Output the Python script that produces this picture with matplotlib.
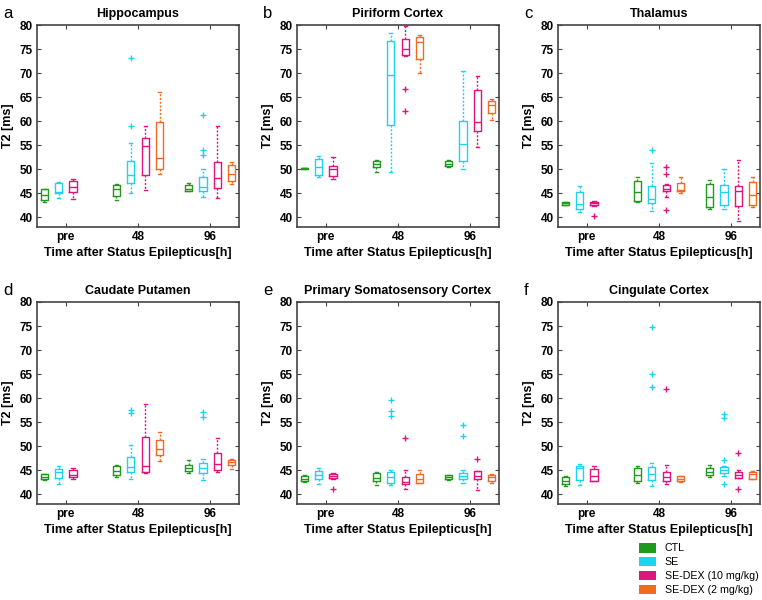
import matplotlib
matplotlib.use("Agg")
import matplotlib.pyplot as plt
from matplotlib.patches import Patch

plt.rcParams['font.family'] = ['Liberation Sans', 'DejaVu Sans']

time_labels = ["pre", "48", "96"]
series_names = ["CTL", "SE", "SE-DEX (10 mg/kg)", "SE-DEX (2 mg/kg)"]
series_colors = ["#1f9a1f", "#1dd3f2", "#e0147c", "#f56a1e"]

# rows: (time index, series index, whislo, q1, median, q3, whishi, [outliers])
hippocampus = [
    (0, 0, 43.3, 43.6, 44.7, 45.8, 45.9, []),
    (0, 1, 44.0, 45.0, 45.3, 47.2, 47.3, []),
    (0, 2, 43.8, 45.3, 46.3, 47.6, 48.0, []),
    (1, 0, 43.6, 44.5, 46.0, 46.8, 47.0, []),
    (1, 1, 45.0, 47.2, 48.8, 51.7, 55.5, [59.0, 73.1]),
    (1, 2, 45.7, 48.8, 54.8, 56.5, 59.0, []),
    (1, 3, 49.1, 50.1, 52.4, 59.9, 66.1, []),
    (2, 0, 45.5, 45.5, 45.8, 46.7, 47.2, []),
    (2, 1, 44.2, 45.5, 46.4, 48.5, 50.0, [53.0, 54.1, 61.3]),
    (2, 2, 44.0, 46.1, 48.2, 51.6, 59.0, []),
    (2, 3, 47.0, 47.5, 49.0, 50.8, 51.6, []),
]
piriform_cortex = [
    (0, 0, 50.1, 50.15, 50.2, 50.3, 50.35, []),
    (0, 1, 48.3, 48.8, 50.5, 52.2, 52.8, []),
    (0, 2, 48.0, 48.6, 50.0, 50.6, 52.6, []),
    (1, 0, 49.4, 50.5, 51.1, 51.8, 52.0, []),
    (1, 1, 49.5, 59.3, 69.6, 76.6, 78.4, []),
    (1, 2, 73.5, 73.8, 75.1, 77.0, 79.8, [66.7, 62.1]),
    (1, 3, 70.0, 72.9, 76.4, 77.5, 78.0, []),
    (2, 0, 50.5, 50.6, 51.1, 51.7, 51.9, []),
    (2, 1, 50.1, 51.7, 55.3, 60.1, 70.5, []),
    (2, 2, 54.7, 58.0, 59.9, 66.4, 69.3, []),
    (2, 3, 60.2, 61.6, 63.4, 64.2, 64.7, []),
]
thalamus = [
    (0, 0, 42.5, 42.6, 42.9, 43.2, 43.3, []),
    (0, 1, 41.1, 41.8, 42.7, 45.3, 46.5, []),
    (0, 2, 42.3, 42.5, 42.9, 43.3, 43.5, [40.3]),
    (1, 0, 43.1, 43.4, 45.3, 47.6, 48.4, []),
    (1, 1, 41.4, 43.0, 43.8, 46.6, 51.3, [54.1]),
    (1, 2, 44.2, 45.5, 46.0, 46.8, 47.0, [49.1, 50.5, 41.6]),
    (1, 3, 45.0, 45.4, 45.6, 47.2, 48.4, []),
    (2, 0, 41.8, 42.1, 44.2, 47.0, 47.8, []),
    (2, 1, 41.8, 42.5, 45.2, 46.8, 50.0, []),
    (2, 2, 39.2, 42.3, 45.4, 46.6, 51.9, []),
    (2, 3, 42.2, 42.5, 44.6, 47.4, 48.5, []),
]
caudate_putamen = [
    (0, 0, 42.9, 43.1, 43.6, 44.2, 44.3, []),
    (0, 1, 42.2, 43.4, 44.6, 45.3, 45.9, []),
    (0, 2, 43.3, 43.6, 44.0, 45.0, 45.5, []),
    (1, 0, 43.7, 44.0, 44.8, 45.9, 46.1, []),
    (1, 1, 43.1, 44.7, 45.7, 47.8, 50.2, [57.0, 57.6]),
    (1, 2, 44.4, 44.7, 45.9, 52.0, 58.8, []),
    (1, 3, 47.0, 48.1, 49.4, 51.3, 52.9, []),
    (2, 0, 44.5, 44.9, 45.4, 46.2, 47.1, []),
    (2, 1, 43.0, 44.5, 45.4, 46.5, 47.3, [56.0, 57.1]),
    (2, 2, 44.6, 45.0, 46.4, 48.6, 51.7, []),
    (2, 3, 45.3, 46.2, 46.8, 47.2, 47.3, []),
]
somatosensory_cortex = [
    (0, 0, 42.6, 42.8, 43.2, 43.8, 44.0, []),
    (0, 1, 42.2, 43.2, 44.1, 44.8, 45.4, []),
    (0, 2, 43.3, 43.4, 43.8, 44.2, 44.4, [41.2]),
    (1, 0, 42.0, 42.8, 43.4, 44.4, 44.6, []),
    (1, 1, 42.0, 42.3, 43.6, 44.6, 45.0, [59.7, 57.4, 56.2]),
    (1, 2, 41.1, 42.2, 42.6, 43.6, 45.0, [51.7]),
    (1, 3, 42.3, 42.4, 43.1, 44.2, 45.0, []),
    (2, 0, 42.9, 43.2, 43.6, 44.0, 44.1, []),
    (2, 1, 42.4, 43.3, 43.8, 44.5, 45.0, [54.4, 52.1]),
    (2, 2, 41.0, 43.2, 43.9, 44.8, 44.9, [47.3]),
    (2, 3, 42.4, 42.8, 43.6, 44.1, 44.2, []),
]
cingulate_cortex = [
    (0, 0, 41.8, 42.1, 42.7, 43.6, 43.8, []),
    (0, 1, 42.0, 42.9, 45.4, 46.0, 46.3, []),
    (0, 2, 42.7, 42.7, 43.8, 45.2, 45.8, []),
    (1, 0, 42.4, 42.7, 44.1, 45.5, 45.8, []),
    (1, 1, 41.7, 43.0, 44.2, 45.7, 46.5, [74.9, 65.1, 62.3]),
    (1, 2, 42.2, 42.8, 43.7, 44.6, 46.2, [61.9]),
    (1, 3, 42.6, 42.7, 43.2, 43.8, 43.9, []),
    (2, 0, 43.7, 44.0, 44.6, 45.4, 46.1, []),
    (2, 1, 43.8, 44.5, 45.0, 45.6, 45.8, [47.2, 56.7, 55.9, 42.1]),
    (2, 2, 43.5, 43.5, 44.1, 44.7, 45.1, [48.5, 41.2]),
    (2, 3, 43.2, 43.3, 44.2, 44.7, 44.9, []),
]

panels = [
    ("a", "Hippocampus", hippocampus),
    ("b", "Piriform Cortex", piriform_cortex),
    ("c", "Thalamus", thalamus),
    ("d", "Caudate Putamen", caudate_putamen),
    ("e", "Primary Somatosensory Cortex", somatosensory_cortex),
    ("f", "Cingulate Cortex", cingulate_cortex),
]

W, H = 762, 600
fig = plt.figure(figsize=(W / 100, H / 100), dpi=100)

lefts = [37, 297, 558]
tops = [25, 302]
aw, ah = 202, 202

offsets = [-0.3, -0.1, 0.1, 0.3]
spine_col = "#444444"

for i, (letter, title, table) in enumerate(panels):
    r, c = divmod(i, 3)
    l = lefts[c]
    t = tops[r]
    ax = fig.add_axes([l / W, 1 - (t + ah) / H, aw / W, ah / H])
    for (g, s, lo, q1, med, q3, hi, fl) in table:
        col = series_colors[s]
        st = dict(whislo=lo, q1=q1, med=med, q3=q3, whishi=hi, fliers=fl)
        ax.bxp([st], positions=[g + 1 + offsets[s]], widths=0.1,
               showfliers=True, patch_artist=False,
               boxprops=dict(color=col, linewidth=1.0),
               medianprops=dict(color=col, linewidth=1.0),
               whiskerprops=dict(color=col, linewidth=1.0, linestyle=(0, (1.5, 1.2))),
               capprops=dict(color=col, linewidth=1.0),
               capwidths=0.045,
               flierprops=dict(marker='+', markeredgecolor=col, markersize=5,
                               markeredgewidth=1.0, linestyle='none'),
               manage_ticks=False)
    ax.set_xlim(0.6, 3.4)
    ax.set_ylim(38, 80)
    ax.set_yticks(range(40, 81, 5))
    ax.set_xticks([1, 2, 3])
    ax.set_xticklabels(time_labels)
    ax.tick_params(direction='in', top=True, right=True, length=3,
                   labelsize=8.5, color=spine_col, pad=3)
    for lab in ax.get_xticklabels() + ax.get_yticklabels():
        lab.set_fontweight('bold')
    for sp in ax.spines.values():
        sp.set_color(spine_col)
        sp.set_linewidth(1.2)
    ax.set_title(title, fontsize=9, fontweight='bold', pad=6)
    ax.set_xlabel("Time after Status Epilepticus[h]", fontsize=9,
                  fontweight='bold', labelpad=3)
    ax.set_ylabel("T2 [ms]", fontsize=9, fontweight='bold', labelpad=4)
    fig.text((l - 34) / W, 1 - (t - 12) / H, letter, fontsize=12,
             ha='left', va='center')

handles = [Patch(facecolor=cl, edgecolor='none') for cl in series_colors]
fig.legend(handles, series_names, loc='upper left',
           bbox_to_anchor=(639 / W, 1 - 543 / H), frameon=False,
           fontsize=7.7, handlelength=1.6, handleheight=1.0,
           handletextpad=0.8, labelspacing=0.32, borderaxespad=0,
           borderpad=0)

fig.savefig("out.png", dpi=100)
